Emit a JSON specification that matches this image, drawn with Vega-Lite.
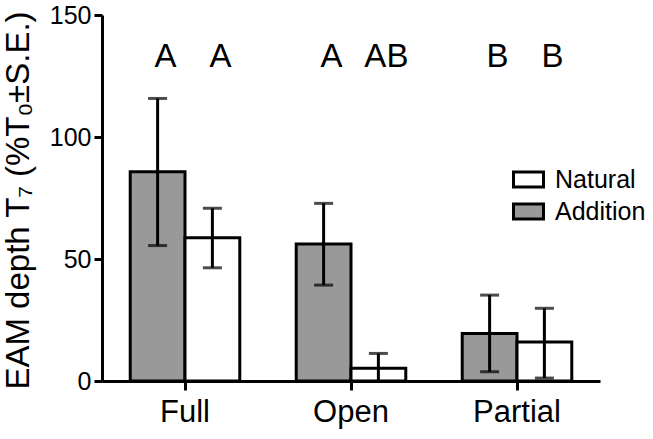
{
  "$schema": "https://vega.github.io/schema/vega-lite/v6.json",
  "width": 498,
  "height": 366,
  "autosize": {"type": "none"},
  "padding": {"left": 102, "top": 15, "right": 53, "bottom": 58},
  "background": "white",
  "config": {
    "view": {"stroke": null},
    "font": "Liberation Sans",
    "axis": {"grid": false, "domainColor": "black", "domainWidth": 3, "tickColor": "black", "tickWidth": 3, "labelColor": "black", "titleColor": "black", "labelFont": "Liberation Sans", "titleFont": "Liberation Sans"}
  },
  "data": {
    "values": [
      {"site": "Full", "treatment": "Addition", "mean": 85.8, "lo": 55.5, "hi": 115.8, "letter": "A"},
      {"site": "Full", "treatment": "Natural", "mean": 58.7, "lo": 46.4, "hi": 70.8, "letter": "A"},
      {"site": "Open", "treatment": "Addition", "mean": 56.1, "lo": 39.3, "hi": 72.8, "letter": "A"},
      {"site": "Open", "treatment": "Natural", "mean": 5.2, "lo": -0.9, "hi": 11.3, "letter": "AB"},
      {"site": "Partial", "treatment": "Addition", "mean": 19.5, "lo": 3.8, "hi": 35.2, "letter": "B"},
      {"site": "Partial", "treatment": "Natural", "mean": 16.0, "lo": 1.2, "hi": 29.8, "letter": "B"}
    ]
  },
  "encoding": {
    "x": {
      "field": "site", "type": "nominal", "sort": ["Full", "Open", "Partial"],
      "scale": {"paddingInner": 0.34, "paddingOuter": 0.17},
      "axis": {"title": null, "labelAngle": 0, "labelFontSize": 31, "labelPadding": 7, "tickSize": 9, "domainWidth": 3}
    },
    "xOffset": {"field": "treatment", "type": "nominal", "sort": ["Addition", "Natural"], "scale": {"paddingInner": 0, "paddingOuter": 0}}
  },
  "layer": [
    {
      "mark": {"type": "bar", "stroke": "black", "strokeWidth": 3, "clip": true},
      "encoding": {
        "y": {
          "field": "mean", "type": "quantitative",
          "scale": {"domain": [0, 150], "nice": false},
          "axis": {
            "values": [0, 50, 100, 150], "labelFontSize": 25, "tickSize": 8, "labelPadding": 3,
            "title": "EAM depth T₇ (%T₀±S.E.)", "titleFontSize": 33, "titleFontWeight": "normal",
            "titleX": -84, "titleY": 185, "titleBaseline": "middle", "titleAlign": "center", "titleAngle": -90
          }
        },
        "fill": {
          "field": "treatment", "type": "nominal",
          "scale": {"domain": ["Natural", "Addition"], "range": ["#ffffff", "#999999"]},
          "legend": {
            "title": null, "orient": "none", "legendX": 410, "legendY": 148,
            "symbolType": "M-1,-0.5H1V0.5H-1Z", "symbolSize": 900, "symbolStrokeColor": "black", "symbolStrokeWidth": 3,
            "labelFontSize": 25, "labelColor": "black", "labelOffset": 10, "rowPadding": 2, "padding": 0
          }
        }
      }
    },
    {
      "mark": {"type": "rule", "color": "black", "strokeWidth": 3, "clip": true},
      "encoding": {
        "y": {"field": "lo", "type": "quantitative"},
        "y2": {"field": "hi"}
      }
    },
    {
      "mark": {"type": "tick", "color": "black", "thickness": 3, "size": 19, "orient": "horizontal", "clip": true},
      "encoding": {"y": {"field": "hi", "type": "quantitative"}}
    },
    {
      "mark": {"type": "tick", "color": "black", "thickness": 3, "size": 19, "orient": "horizontal", "clip": true},
      "encoding": {"y": {"field": "lo", "type": "quantitative"}}
    },
    {
      "mark": {"type": "text", "fontSize": 33, "baseline": "alphabetic", "align": "center", "dx": 8, "color": "black"},
      "encoding": {
        "y": {"datum": 128.7, "type": "quantitative"},
        "text": {"field": "letter"}
      }
    }
  ]
}
